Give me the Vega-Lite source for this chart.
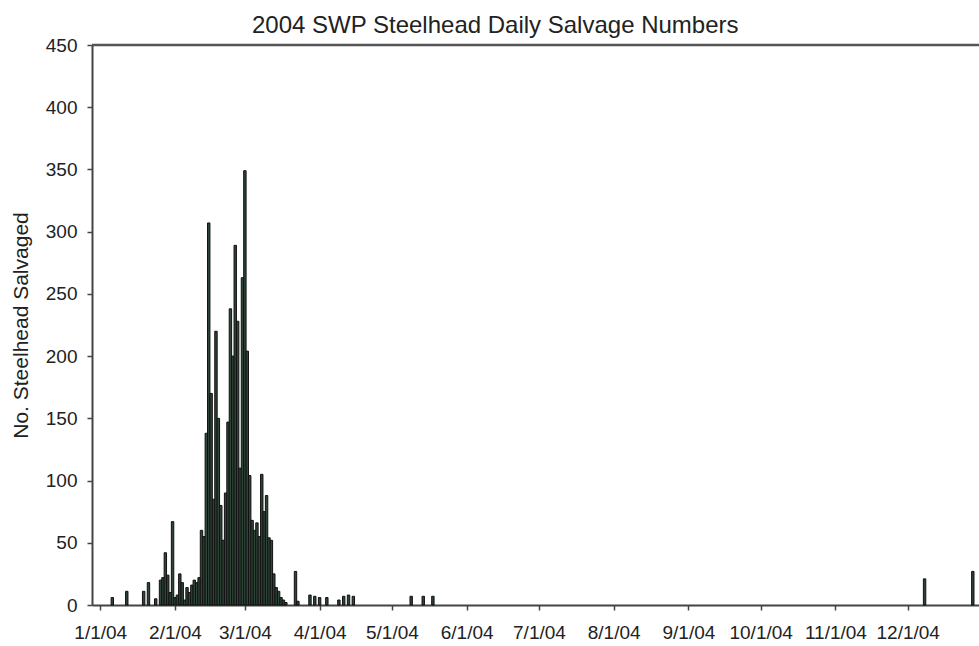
{
  "$schema": "https://vega.github.io/schema/vega-lite/v6.json",
  "width": 887,
  "height": 560,
  "autosize": {"type": "none"},
  "padding": {"left": 92, "top": 45, "right": 0, "bottom": 41},
  "background": "white",
  "config": {"view": {"stroke": null}},
  "title": {
    "text": "2004 SWP Steelhead Daily Salvage Numbers",
    "font": "Liberation Sans",
    "fontSize": 24,
    "fontWeight": "normal",
    "color": "#222222",
    "frame": "bounds",
    "anchor": "middle",
    "offset": 10,
    "dy": 12
  },
  "data": {
    "values": [
      {"date": "2004-01-06", "count": 6},
      {"date": "2004-01-12", "count": 11},
      {"date": "2004-01-19", "count": 11},
      {"date": "2004-01-21", "count": 18},
      {"date": "2004-01-24", "count": 5},
      {"date": "2004-01-26", "count": 20},
      {"date": "2004-01-27", "count": 22},
      {"date": "2004-01-28", "count": 42},
      {"date": "2004-01-29", "count": 24},
      {"date": "2004-01-30", "count": 10},
      {"date": "2004-01-31", "count": 67},
      {"date": "2004-02-01", "count": 6},
      {"date": "2004-02-02", "count": 8},
      {"date": "2004-02-03", "count": 25},
      {"date": "2004-02-04", "count": 18},
      {"date": "2004-02-05", "count": 4},
      {"date": "2004-02-06", "count": 14},
      {"date": "2004-02-07", "count": 10},
      {"date": "2004-02-08", "count": 16},
      {"date": "2004-02-09", "count": 20},
      {"date": "2004-02-10", "count": 18},
      {"date": "2004-02-11", "count": 22},
      {"date": "2004-02-12", "count": 60},
      {"date": "2004-02-13", "count": 55},
      {"date": "2004-02-14", "count": 138},
      {"date": "2004-02-15", "count": 307},
      {"date": "2004-02-16", "count": 170},
      {"date": "2004-02-17", "count": 85},
      {"date": "2004-02-18", "count": 220},
      {"date": "2004-02-19", "count": 150},
      {"date": "2004-02-20", "count": 80},
      {"date": "2004-02-21", "count": 52},
      {"date": "2004-02-22", "count": 90},
      {"date": "2004-02-23", "count": 147},
      {"date": "2004-02-24", "count": 238},
      {"date": "2004-02-25", "count": 200},
      {"date": "2004-02-26", "count": 289},
      {"date": "2004-02-27", "count": 228},
      {"date": "2004-02-28", "count": 110},
      {"date": "2004-02-29", "count": 263},
      {"date": "2004-03-01", "count": 349},
      {"date": "2004-03-02", "count": 204},
      {"date": "2004-03-03", "count": 104},
      {"date": "2004-03-04", "count": 68},
      {"date": "2004-03-05", "count": 60},
      {"date": "2004-03-06", "count": 66},
      {"date": "2004-03-07", "count": 55},
      {"date": "2004-03-08", "count": 105},
      {"date": "2004-03-09", "count": 75},
      {"date": "2004-03-10", "count": 88},
      {"date": "2004-03-11", "count": 54},
      {"date": "2004-03-12", "count": 52},
      {"date": "2004-03-13", "count": 25},
      {"date": "2004-03-14", "count": 14},
      {"date": "2004-03-15", "count": 11},
      {"date": "2004-03-16", "count": 6},
      {"date": "2004-03-17", "count": 4},
      {"date": "2004-03-18", "count": 2},
      {"date": "2004-03-22", "count": 27},
      {"date": "2004-03-23", "count": 3},
      {"date": "2004-03-28", "count": 8},
      {"date": "2004-03-30", "count": 7},
      {"date": "2004-04-01", "count": 6},
      {"date": "2004-04-04", "count": 6},
      {"date": "2004-04-09", "count": 4},
      {"date": "2004-04-11", "count": 7},
      {"date": "2004-04-13", "count": 8},
      {"date": "2004-04-15", "count": 7},
      {"date": "2004-05-09", "count": 7},
      {"date": "2004-05-14", "count": 7},
      {"date": "2004-05-18", "count": 7},
      {"date": "2004-12-08", "count": 21},
      {"date": "2004-12-28", "count": 27}
    ]
  },
  "layer": [
    {
      "data": {"values": [{"edge": "top"}]},
      "mark": {"type": "rule", "color": "#555555", "strokeWidth": 2.5},
      "encoding": {"y": {"datum": 450, "type": "quantitative"}}
    },
    {
      "mark": {"type": "bar", "width": 2.4, "fill": "#2f4538", "stroke": "#111111", "strokeWidth": 1},
      "encoding": {
        "x": {
          "field": "date",
          "type": "temporal",
          "scale": {
            "type": "utc",
            "domain": [
              {"year": 2003, "month": 12, "date": 30, "hours": 15, "minutes": 30, "utc": true},
              {"year": 2004, "month": 12, "date": 28, "hours": 12, "utc": true}
            ]
          },
          "axis": {
            "title": null,
            "format": "%-m/%-d/%y",
            "tickCount": {"interval": "month", "step": 1},
            "grid": false,
            "tickSize": 5,
            "tickColor": "#444444",
            "tickWidth": 1.5,
            "domainColor": "#444444",
            "domainWidth": 2,
            "labelFont": "Liberation Sans",
            "labelFontSize": 19,
            "labelColor": "#222222",
            "labelPadding": 13,
            "labelFlush": false,
            "labelOverlap": false
          }
        },
        "y": {
          "field": "count",
          "type": "quantitative",
          "scale": {"domain": [0, 450], "nice": false},
          "axis": {
            "title": "No. Steelhead Salvaged",
            "titleFont": "Liberation Sans",
            "titleFontSize": 21,
            "titleFontWeight": "normal",
            "titleColor": "#222222",
            "titlePadding": 14,
            "values": [0, 50, 100, 150, 200, 250, 300, 350, 400, 450],
            "grid": false,
            "tickSize": 5,
            "tickColor": "#444444",
            "tickWidth": 1.5,
            "domainColor": "#444444",
            "domainWidth": 2,
            "labelFont": "Liberation Sans",
            "labelFontSize": 19,
            "labelColor": "#222222",
            "labelPadding": 10
          }
        }
      }
    }
  ]
}
